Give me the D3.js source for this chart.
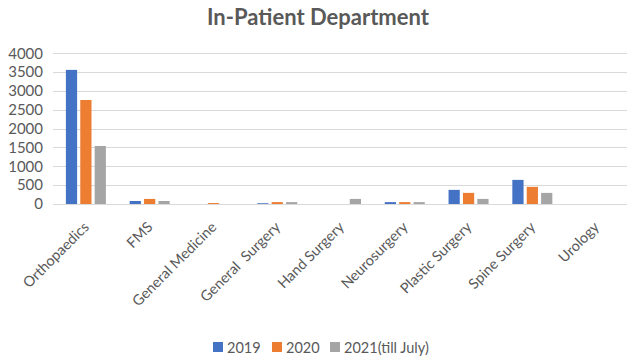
<!DOCTYPE html>
<html>
<head>
<meta charset="utf-8">
<script src="https://cdn.jsdelivr.net/npm/d3@7"></script>
<style>
  body { margin: 0; background: #fff; }
  text { font-family: Lato, "Open Sans", sans-serif; fill: #595959; }
</style>
</head>
<body>
<div id="chart"></div>
<script>
var departments = ["Orthopaedics", "FMS", "General Medicine", "General  Surgery", "Hand Surgery",
  "Neurosurgery", "Plastic Surgery", "Spine Surgery", "Urology"]
var series = ["2019", "2020", "2021(till July)"]
var colors = ["#4472C4", "#ED7D31", "#A5A5A5"]
var values2019 = [3560, 80, 0, 20, 0, 50, 375, 640, 0]
var values2020 = [2760, 135, 25, 50, 0, 50, 295, 455, 0]
var values2021 = [1540, 80, 0, 50, 135, 50, 135, 295, 0]
var yTicks = [0, 500, 1000, 1500, 2000, 2500, 3000, 3500, 4000]

var allValues = [values2019, values2020, values2021]

var svg = d3.select("#chart")
    .append("svg")
    .attr("width", 637)
    .attr("height", 364)

// title
svg.append("text")
    .attr("x", 318)
    .attr("y", 25)
    .attr("text-anchor", "middle")
    .style("font-size", "22px")
    .style("font-weight", "bold")
    .text("In-Patient Department")

var x = d3.scaleBand()
    .domain(departments)
    .range([53, 627])

var y = d3.scaleLinear()
    .domain([0, 4000])
    .range([204, 53.3])

// gridlines
svg.append("g")
    .selectAll("line")
    .data(yTicks)
    .join("line")
    .attr("x1", 53)
    .attr("x2", 627)
    .attr("y1", d => Math.round(y(d)) + 0.5)
    .attr("y2", d => Math.round(y(d)) + 0.5)
    .style("stroke", "#D9D9D9")
    .style("stroke-width", 1)

// y axis labels
var yAxis = svg.append("g")
    .attr("transform", "translate(47,0)")
    .call(d3.axisLeft(y).tickValues(yTicks).tickFormat(d3.format("d")).tickSize(0).tickPadding(4))
yAxis.select(".domain").remove()
yAxis.selectAll("text")
    .attr("fill", "#595959")
    .style("font-size", "15px")
    .style("font-family", "Lato, sans-serif")

// bars
var groupWidth = 40
var x1 = d3.scaleBand()
    .domain(series)
    .range([0, groupWidth])
    .paddingInner(0.22)

var rows = []
departments.forEach((dep, i) => {
    series.forEach((s, j) => {
        rows.push({ dep: dep, s: s, j: j, v: allValues[j][i] })
    })
})

svg.append("g")
    .selectAll("rect")
    .data(rows.filter(d => d.v > 0))
    .join("rect")
    .attr("x", d => x(d.dep) + (x.bandwidth() - groupWidth) / 2 + 1 + x1(d.s))
    .attr("y", d => y(d.v))
    .attr("width", x1.bandwidth())
    .attr("height", d => y(0) - y(d.v))
    .style("fill", d => colors[d.j])

// x axis line redrawn on top of bars
svg.append("line")
    .attr("x1", 53)
    .attr("x2", 627)
    .attr("y1", 204.5)
    .attr("y2", 204.5)
    .style("stroke", "#D9D9D9")

// x labels
svg.append("g")
    .selectAll("text")
    .data(departments)
    .join("text")
    .attr("transform", d => "translate(" + (x(d) + x.bandwidth() / 2 + 5) + ",228) rotate(-45)")
    .attr("text-anchor", "end")
    .style("font-size", "14.5px")
    .style("white-space", "pre")
    .text(d => d)

// legend
var legendX = [213, 272, 330]
var legend = svg.append("g")
    .selectAll("g")
    .data(series)
    .join("g")
    .attr("transform", (d, i) => "translate(" + legendX[i] + ",342)")
legend.append("rect")
    .attr("width", 10)
    .attr("height", 10)
    .style("fill", (d, i) => colors[i])
legend.append("text")
    .attr("x", 14)
    .attr("y", 10.5)
    .style("font-size", "14.5px")
    .text(d => d)
</script>
</body>
</html>
